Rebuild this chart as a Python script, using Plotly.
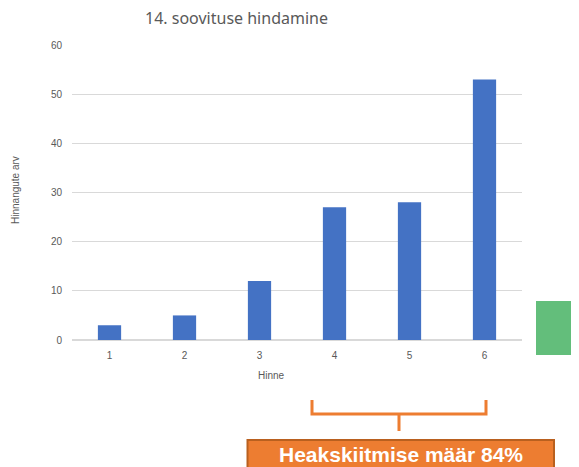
import plotly.graph_objects as go

categories = ["1", "2", "3", "4", "5", "6"]
values = [3, 5, 12, 27, 28, 53]
y_ticks = [0, 10, 20, 30, 40, 50, 60]

title_text = "14. soovituse hindamine"
x_title = "Hinne"
y_title = "Hinnangute arv"
callout_text = "Heakskiitmise määr 84%"

# page body has an 8px margin; figure is sized to fit the window
O = 8
W, H = 579 - O, 467 - O
L = 72 - O
T = 45 - O
R = W - (522 - O)
B = H - (340 - O)
pw, ph = W - L - R, H - T - B


def px(x):
    return (x - O - L) / pw


def py(y):
    return (H - B - (y - O)) / ph


grey = "#595959"
orange = "#ED7D31"

fig = go.Figure(
    go.Bar(x=categories, y=values, marker=dict(color="#4472C4", line=dict(width=0)), width=0.31)
)

fig.update_layout(
    width=W,
    height=H,
    margin=dict(l=L, r=R, t=T, b=B),
    plot_bgcolor="white",
    paper_bgcolor="white",
    showlegend=False,
    font=dict(family="Liberation Sans, Arial, sans-serif", color=grey, size=10),
)
fig.update_xaxes(
    type="category",
    showgrid=False,
    showline=True,
    linecolor="#D9D9D9",
    linewidth=1,
    ticks="",
    ticklabelstandoff=6,
    tickfont=dict(size=10, color=grey),
)
fig.update_yaxes(
    range=[0, 60],
    tickvals=y_ticks,
    showgrid=True,
    gridcolor="#D9D9D9",
    gridwidth=1,
    zeroline=True,
    zerolinecolor="#D9D9D9",
    showline=False,
    ticks="",
    ticklabelstandoff=9,
    tickfont=dict(size=10, color=grey),
)

annotations = [
    dict(text=title_text, x=px(236.5), y=py(18), xref="paper", yref="paper",
         showarrow=False, font=dict(size=16, color=grey, family="Noto Sans, sans-serif"),
         xanchor="center", yanchor="middle"),
    dict(text=x_title, x=px(271), y=py(375), xref="paper", yref="paper",
         showarrow=False, font=dict(size=10, color=grey), xanchor="center", yanchor="middle"),
    dict(text=y_title, x=px(15), y=py(190), xref="paper", yref="paper", textangle=-90,
         showarrow=False, font=dict(size=10, color=grey), xanchor="center", yanchor="middle"),
    dict(text="<b>" + callout_text + "</b>", x=px(401), y=py(454), xref="paper", yref="paper",
         showarrow=False, font=dict(size=21, color="white", family="Liberation Sans, Arial, sans-serif"),
         xanchor="center", yanchor="middle"),
]

shapes = [
    dict(type="rect", xref="paper", yref="paper", x0=px(536), x1=px(585), y0=py(355), y1=py(301),
         fillcolor="#63BE7B", line=dict(width=0), layer="above"),
    dict(type="path", xref="paper", yref="paper",
         path=(f"M {px(312)},{py(400)} L {px(312)},{py(414)} L {px(486)},{py(414)} L {px(486)},{py(400)} "
               f"M {px(399)},{py(414)} L {px(399)},{py(431)}"),
         line=dict(color=orange, width=3), layer="above"),
    dict(type="rect", xref="paper", yref="paper", x0=px(247.5), x1=px(554), y0=py(480), y1=py(440),
         fillcolor=orange, line=dict(color="#B9601F", width=2), layer="above"),
]

fig.update_layout(annotations=annotations, shapes=shapes)

fig.write_html("out.html")
